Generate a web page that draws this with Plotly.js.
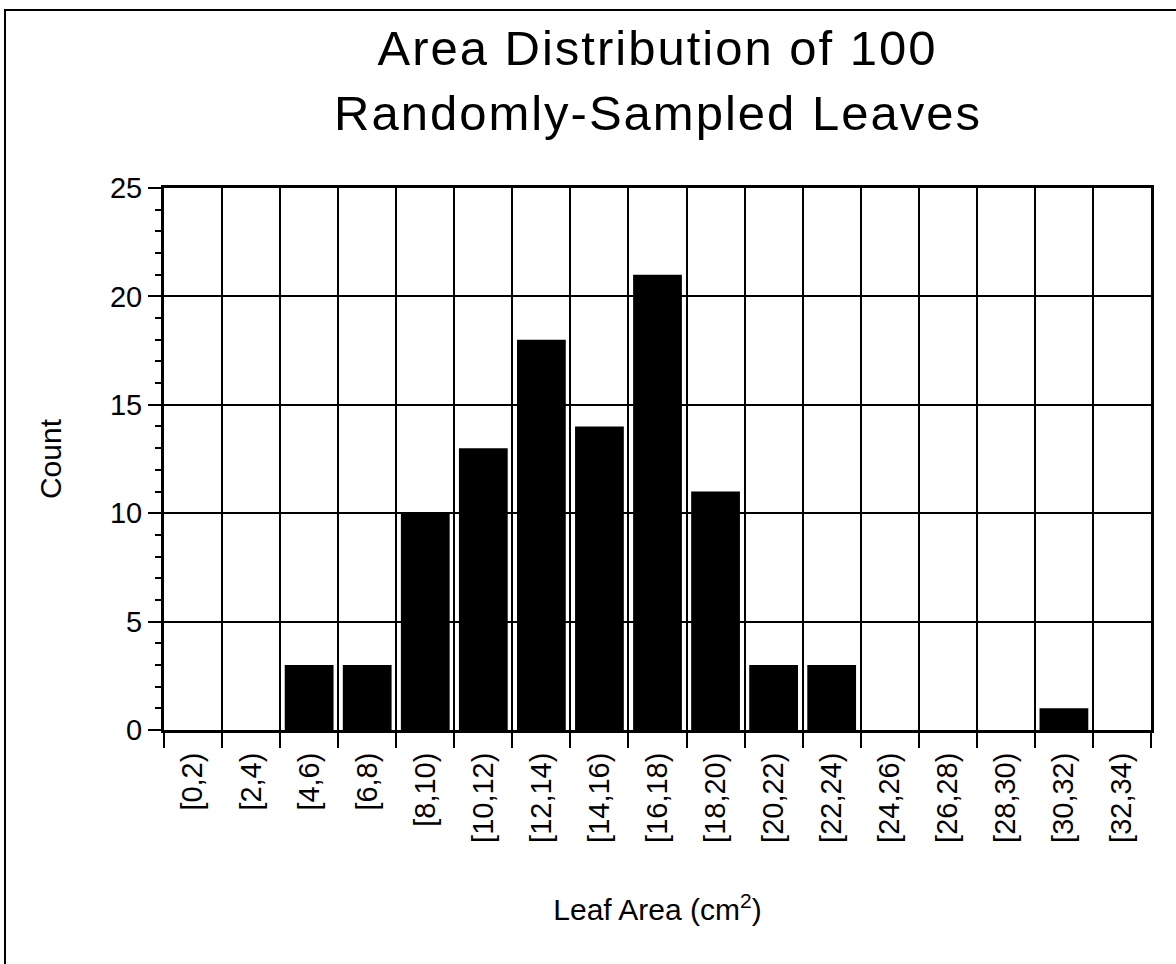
<!DOCTYPE html>
<html>
<head>
<meta charset="utf-8">
<script src="https://cdn.plot.ly/plotly-3.0.1.min.js"></script>
<style>
  html, body { margin: 0; padding: 0; background: #fff; }
  #chart { width: 1176px; height: 964px; }
  #chart .gtitle, #chart .annotation-text { letter-spacing: 2px; }
</style>
</head>
<body>
<div id="chart"></div>
<script>
// Leaf-area bins (cm^2) and counts of leaves in each bin
const categories = ["[0,2)", "[2,4)", "[4,6)", "[6,8)", "[8,10)", "[10,12)", "[12,14)", "[14,16)",
                    "[16,18)", "[18,20)", "[20,22)", "[22,24)", "[24,26)", "[26,28)", "[28,30)", "[30,32)", "[32,34)"];
const counts = [0, 0, 3, 3, 10, 13, 18, 14, 21, 11, 3, 3, 0, 0, 0, 1, 0];
const yTicks = [0, 5, 10, 15, 20, 25];

const titleLine1 = "Area Distribution of 100";
const titleLine2 = "Randomly-Sampled Leaves";
const xTitle = "Leaf Area (cm<sup>2</sup>)";
const yTitle = "Count";

const FONT = "Liberation Sans, Arial, Helvetica, sans-serif";
const TICK_SIZE = 29;
const TITLE_SIZE = 49;

const trace = {
  type: "bar",
  x: categories,
  y: counts,
  marker: { color: "#000000", line: { width: 0 } },
  hoverinfo: "x+y"
};

const layout = {
  width: 1176,
  height: 964,
  paper_bgcolor: "#ffffff",
  plot_bgcolor: "#ffffff",
  font: { family: FONT, color: "#000000" },
  margin: { l: 164, r: 25, t: 188, b: 234, pad: 0 },
  showlegend: false,
  bargap: 0.16,
  title: {
    text: titleLine1,
    font: { family: FONT, size: TITLE_SIZE, color: "#000000" },
    x: 0.5,
    xanchor: "center",
    xref: "paper",
    y: 1 - 31 / 964,
    yanchor: "top",
    yref: "container"
  },
  annotations: [
    {
      text: titleLine2,
      xref: "paper", yref: "paper",
      x: 0.5, xanchor: "center",
      y: (730 - 142) / 542, yanchor: "bottom",
      showarrow: false,
      font: { family: FONT, size: TITLE_SIZE, color: "#000000" }
    }
  ],
  xaxis: {
    type: "category",
    tickson: "boundaries",
    ticks: "outside",
    ticklen: 15,
    tickwidth: 2,
    tickcolor: "#000",
    tickangle: -90,
    ticklabelstandoff: 8,
    tickfont: { family: FONT, size: TICK_SIZE, color: "#000" },
    showgrid: true,
    gridcolor: "#000",
    gridwidth: 2,
    showline: true,
    linecolor: "#000",
    linewidth: 3,
    mirror: true,
    zeroline: false,
    automargin: false,
    title: {
      text: xTitle,
      font: { family: FONT, size: 30, color: "#000" },
      standoff: 58
    }
  },
  yaxis: {
    range: [0, 25],
    tickvals: yTicks,
    ticktext: yTicks.map(String),
    ticks: "outside",
    ticklen: 13,
    tickwidth: 2,
    tickcolor: "#000",
    tickfont: { family: FONT, size: TICK_SIZE, color: "#000" },
    minor: { dtick: 1, ticks: "outside", ticklen: 6, tickwidth: 2, tickcolor: "#000", showgrid: false },
    showgrid: true,
    gridcolor: "#000",
    gridwidth: 2,
    showline: true,
    linecolor: "#000",
    linewidth: 3,
    mirror: true,
    zeroline: false,
    automargin: false,
    title: {
      text: yTitle,
      font: { family: FONT, size: 30, color: "#000" },
      standoff: 40
    }
  },
  shapes: [
    {
      type: "rect",
      xref: "paper", yref: "paper",
      x0: (5 - 164) / 987, x1: 1.06,
      y0: -0.5, y1: (730 - 10) / 542,
      line: { color: "#000", width: 2 },
      fillcolor: "rgba(0,0,0,0)",
      layer: "below"
    }
  ]
};

Plotly.newPlot("chart", [trace], layout, { displayModeBar: false, staticPlot: true });
</script>
</body>
</html>
